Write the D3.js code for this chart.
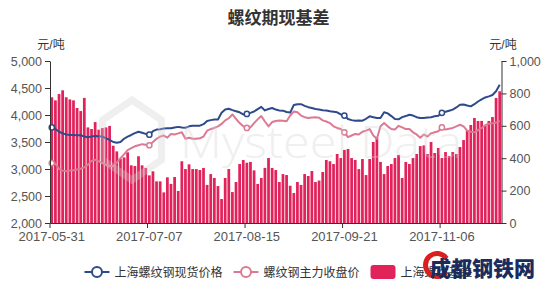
<!DOCTYPE html>
<html>
<head>
<meta charset="utf-8">
<script src="https://cdn.jsdelivr.net/npm/d3@7"></script>
<style>
  body { margin: 0; background: #fff; }
  text { font-family: "Liberation Sans", "Noto Sans CJK SC", sans-serif; }
</style>
</head>
<body>
<div id="chart"></div>
<script>
// trading days start, holidays skipped (National Day week)
const startDate = "2017-05-31"
const dayCount = 125
const holidays = ["2017-10-02", "2017-10-03", "2017-10-04", "2017-10-05", "2017-10-06"]
const tickLabels = ["2017-05-31", "2017-07-07", "2017-08-15", "2017-09-21", "2017-11-06"]
const leftTicks = [2000, 2500, 3000, 3500, 4000, 4500, 5000]
const rightTicks = [0, 200, 400, 600, 800, 1000]
const seriesNames = ["上海螺纹钢现货价格", "螺纹钢主力收盘价", "上海螺纹基差"]

// 上海螺纹钢现货价格
const spot = [
  3770, 3740, 3690, 3660, 3640, 3630, 3630, 3625, 3625, 3600,
  3590, 3600, 3610, 3605, 3600, 3570, 3540, 3500, 3485, 3500,
  3560, 3600, 3630, 3665, 3690, 3670, 3650, 3635, 3700, 3730,
  3735, 3750, 3755, 3755, 3770, 3780, 3770, 3765, 3790, 3800,
  3800, 3802, 3830, 3890, 3905, 3915, 3915, 4040, 4100, 4115,
  4090, 4070, 4050, 4010, 4020, 4040, 4065, 4110, 4150, 4085,
  4110, 4130, 4100, 4085, 4080, 4055, 4045, 4185, 4200, 4200,
  4170, 4145, 4130, 4110, 4100, 4090, 4085, 4070, 4060, 4050,
  4010, 3990, 3925, 3905, 3895, 3900, 3895, 3930, 3975, 3960,
  3945, 3945, 4050, 4030, 3980, 3925, 3920, 3960, 3980, 4005,
  3990, 3960, 3945, 3945, 3955, 3960, 3975, 3985, 4040, 4060,
  4080, 4100, 4140, 4190, 4195, 4175, 4160, 4200, 4250, 4290,
  4325, 4345, 4370, 4440, 4560
]

// 螺纹钢主力收盘价
const futures = [
  3110, 3100, 3000, 2970, 2960, 2970, 2975, 2990, 3005, 3030,
  3080, 3150, 3170, 3140, 3110, 3080, 3060, 3050, 3120, 3200,
  3270, 3350, 3385, 3420, 3440, 3460, 3450, 3440, 3500, 3560,
  3600, 3620, 3580, 3650, 3640, 3660, 3680, 3560, 3580, 3560,
  3560, 3570, 3600, 3710, 3740, 3760, 3790, 3835, 3900, 3940,
  4010, 3930, 3850, 3790, 3760, 3770, 3850, 3920, 3980, 3880,
  3790, 3870, 3890, 3900, 3895, 3885, 3990, 4065, 4050, 3990,
  3960, 3945, 3955, 3960, 3950, 3900, 3880, 3850, 3790, 3760,
  3740, 3680, 3590, 3620, 3650, 3640, 3690, 3710, 3740, 3620,
  3560, 3790, 3850, 3790, 3740, 3730, 3800, 3770, 3740, 3740,
  3680, 3640, 3580, 3640, 3600, 3660, 3680, 3700, 3770, 3730,
  3745, 3760, 3790, 3820, 3790, 3710, 3690, 3680, 3720, 3760,
  3810, 3840, 3845, 3860, 3890
]

// 上海螺纹基差
const basis = [
  776, 757, 796, 819, 776, 763, 757, 710, 691, 772,
  590, 580, 623, 576, 586, 590, 599, 477, 442, 395,
  405, 436, 356, 352, 412, 356, 340, 294, 319, 257,
  257, 189, 282, 241, 284, 198, 381, 333, 362, 333,
  333, 327, 340, 235, 302, 278, 228, 148, 278, 333,
  191, 253, 364, 389, 372, 377, 325, 241, 278, 340,
  401, 340, 327, 253, 302, 296, 230, 185, 253, 235,
  302, 290, 321, 253, 262, 315, 389, 381, 364, 426,
  401, 451, 457, 401, 389, 333, 395, 296, 395, 500,
  525, 377, 302, 352, 364, 401, 420, 278, 377, 364,
  401, 426, 475, 479, 426, 500, 432, 463, 401, 438,
  414, 438, 426, 469, 512, 574, 605, 648, 630, 630,
  599, 630, 654, 772, 813
]

const colors = { spot: "#2e4a8b", futures: "#dc7a93", basis: "#e2235b" }

function tradingDays(start, n) {
  const fmt = d3.timeFormat("%Y-%m-%d")
  const out = []
  let d = d3.timeParse("%Y-%m-%d")(start)
  while (out.length < n) {
    const s = fmt(d)
    if (d.getDay() != 0 && d.getDay() != 6 && holidays.indexOf(s) < 0) out.push(s)
    d = d3.timeDay.offset(d, 1)
  }
  return out
}

function draw() {
  const width = 557, height = 283
  const plot = { l: 50, r: 501.5, t: 61, b: 223 }
  const dates = tradingDays(startDate, dayCount)

  const svg = d3.select("#chart").append("svg")
    .attr("width", width)
    .attr("height", height)

  const x = d3.scaleBand().domain(dates).range([plot.l, plot.r]).padding(0)
  const bw = x.bandwidth()
  const yL = d3.scaleLinear().domain([2000, 5000]).range([plot.b, plot.t])
  const yR = d3.scaleLinear().domain([0, 1000]).range([plot.b, plot.t])

  // title + units
  svg.append("text")
    .attr("x", width / 2).attr("y", 24)
    .attr("text-anchor", "middle")
    .style("font-size", "17px").style("font-weight", "bold").attr("fill", "#333")
    .text("螺纹期现基差")
  svg.append("text").attr("x", 51).attr("y", 49).attr("text-anchor", "middle")
    .style("font-size", "12px").attr("fill", "#333").text("元/吨")
  svg.append("text").attr("x", 503).attr("y", 49).attr("text-anchor", "middle")
    .style("font-size", "12px").attr("fill", "#333").text("元/吨")

  // bars
  svg.append("g").selectAll("rect")
    .data(basis)
    .enter().append("rect")
      .attr("x", (d, i) => x(dates[i]) + bw * 0.12)
      .attr("width", bw * 0.76)
      .attr("y", d => yR(d))
      .attr("height", d => plot.b - yR(d))
      .attr("fill", colors.basis)

  // lines
  const line = d3.line().x((d, i) => x(dates[i]) + bw / 2).y(d => yL(d))
  const markIdx = tickLabels.map(t => dates.indexOf(t))
  ;[[futures, colors.futures], [spot, colors.spot]].forEach(([data, c]) => {
    svg.append("path")
      .datum(data)
      .attr("fill", "none")
      .attr("stroke", c)
      .attr("stroke-width", 2)
      .attr("stroke-linejoin", "round")
      .attr("d", line)
    svg.append("g").selectAll("circle")
      .data(markIdx)
      .enter().append("circle")
        .attr("cx", i => x(dates[i]) + bw / 2)
        .attr("cy", i => yL(data[i]))
        .attr("r", 2.6)
        .attr("fill", "#fff")
        .attr("stroke", c)
        .attr("stroke-width", 1.5)
  })

  // watermark
  const wm = svg.append("g").attr("opacity", 0.32)
  const hex = d3.range(6).map(k => {
    const a = Math.PI / 3 * k - Math.PI / 2
    return [132 + 34 * Math.cos(a), 140 + 40 * Math.sin(a)]
  })
  wm.append("polygon").attr("points", hex.map(p => p.join(",")).join(" "))
    .attr("fill", "none").attr("stroke", "#cfcfcf").attr("stroke-width", 7)
  wm.append("text")
    .attr("x", 180).attr("y", 158)
    .attr("textLength", 282).attr("lengthAdjust", "spacingAndGlyphs")
    .style("font-family", "'Open Sans', sans-serif").style("font-weight", 300)
    .style("font-size", "44px").attr("fill", "#cfcfcf")
    .text("Mysteel Data")

  // axes
  const styleAxis = (g, fs) => {
    g.select(".domain").attr("stroke", "#333")
    g.selectAll(".tick line").attr("stroke", "#333")
    g.selectAll(".tick text").attr("fill", "#555").style("font-size", fs)
  }
  svg.append("g")
    .attr("transform", `translate(${plot.l},0)`)
    .call(d3.axisLeft(yL).tickValues(leftTicks).tickFormat(d3.format(",")).tickSize(5).tickSizeOuter(0).tickPadding(3))
    .call(g => styleAxis(g, "12.5px"))
  svg.append("g")
    .attr("transform", `translate(${plot.r},0)`)
    .call(d3.axisRight(yR).tickValues(rightTicks).tickFormat(d3.format(",")).tickSize(5).tickSizeOuter(0).tickPadding(3))
    .call(g => styleAxis(g, "12.5px"))
  const xa = svg.append("g")
    .attr("transform", `translate(0,${plot.b})`)
    .call(d3.axisBottom(x).tickValues(tickLabels).tickSize(5).tickSizeOuter(0).tickPadding(4))
    .call(g => styleAxis(g, "13px"))
  xa.selectAll(".tick line").attr("x1", -bw / 2).attr("x2", -bw / 2)

  // legend
  const legend = svg.append("g")
  const ly = 272
  let lx = 0
  seriesNames.forEach((name, k) => {
    const item = legend.append("g").attr("transform", `translate(${lx},0)`)
    if (k < 2) {
      const c = k == 0 ? colors.spot : colors.futures
      item.append("line").attr("x1", 0).attr("x2", 25).attr("y1", ly).attr("y2", ly)
        .attr("stroke", c).attr("stroke-width", 2)
      item.append("circle").attr("cx", 12.5).attr("cy", ly).attr("r", 5)
        .attr("fill", "#fff").attr("stroke", c).attr("stroke-width", 2)
    } else {
      item.append("rect").attr("x", 0).attr("y", ly - 7).attr("width", 25).attr("height", 14)
        .attr("rx", 3).attr("fill", colors.basis)
    }
    const t = item.append("text").attr("x", 30).attr("y", ly + 4.5)
      .style("font-size", "12px").attr("fill", "#333").text(name)
    lx += 30 + t.node().getComputedTextLength() + 11
  })
  const lw = lx - 11
  legend.attr("transform", `translate(${(width - lw) / 2},0)`)

  // site logo
  const logo = svg.append("g")
  logo.append("path")
    .attr("d", d3.arc()({ innerRadius: 9, outerRadius: 14, startAngle: 0.6, endAngle: Math.PI * 2 - 0.6 }))
    .attr("transform", "translate(437,265) rotate(90)")
    .attr("fill", "#d9201f")
  logo.append("text")
    .attr("x", 430).attr("y", 276)
    .style("font-family", "'Noto Sans CJK SC', sans-serif").style("font-weight", 900)
    .style("font-size", "21px").attr("fill", "#1b2b5c")
    .text("成都钢铁网")
}

draw()
</script>
</body>
</html>
